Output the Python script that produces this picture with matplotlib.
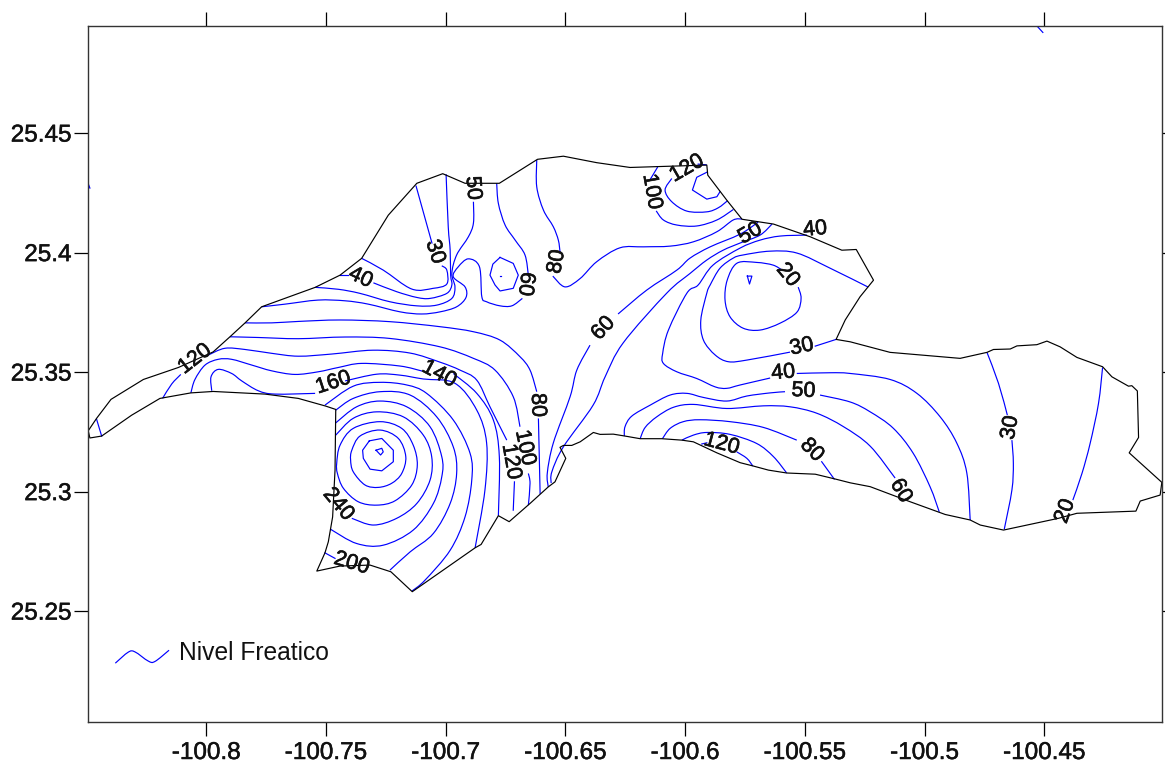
import matplotlib
matplotlib.use("Agg")
import matplotlib.pyplot as plt
import matplotlib.patheffects as pe
from matplotlib.path import Path
from matplotlib.patches import PathPatch

plt.rcParams['font.family'] = ['Liberation Sans', 'DejaVu Sans']

lon_ticks = [-100.8, -100.75, -100.7, -100.65, -100.6, -100.55, -100.5, -100.45]
lon_tick_labels = ['-100.8', '-100.75', '-100.7', '-100.65', '-100.6', '-100.55', '-100.5', '-100.45']
lat_ticks = [25.25, 25.3, 25.35, 25.4, 25.45]
lat_tick_labels = ['25.25', '25.3', '25.35', '25.4', '25.45']

boundary = [(-100.8493,25.3252),(-100.8458,25.3304),(-100.8398,25.3383),(-100.8263,25.3466),(-100.8117,25.3516),
 (-100.7972,25.3581),(-100.7902,25.3644),(-100.7839,25.3702),(-100.7770,25.3769),(-100.7547,25.3850),(-100.7443,25.3901),
 (-100.7353,25.3971),(-100.7242,25.4151),(-100.7123,25.4284),(-100.7015,25.4324),(-100.6922,25.4284),(-100.6779,25.4284),
 (-100.6620,25.4384),(-100.6512,25.4397),(-100.6373,25.4370),(-100.6234,25.4350),(-100.5914,25.4360),(-100.5910,25.4318),
 (-100.5831,25.4214),(-100.5767,25.4134),(-100.5636,25.4114),(-100.5483,25.4061),(-100.5351,25.4005),(-100.5291,25.4008),
 (-100.5219,25.3880),(-100.5275,25.3811),(-100.5337,25.3714),(-100.5375,25.3633),(-100.5316,25.3623),(-100.5150,25.3579),
 (-100.4858,25.3554),(-100.4746,25.3579),(-100.4719,25.3591),(-100.4649,25.3593),(-100.4621,25.3606),(-100.4538,25.3611),
 (-100.4496,25.3626),(-100.4441,25.3602),(-100.4371,25.3558),(-100.4264,25.3519),(-100.4225,25.3477),(-100.4156,25.3438),
 (-100.4142,25.3440),(-100.4119,25.3418),(-100.4114,25.3224),(-100.4153,25.3160),(-100.4017,25.3037),(-100.4024,25.2984),
 (-100.4107,25.2959),(-100.4125,25.2917),(-100.4371,25.2908),(-100.4448,25.2887),(-100.4677,25.2838),(-100.4774,25.2859),
 (-100.4816,25.2880),(-100.4920,25.2903),(-100.5066,25.2956),(-100.5233,25.3019),(-100.5316,25.3035),(-100.5379,25.3051),
 (-100.5462,25.3071),(-100.5581,25.3076),(-100.5657,25.3088),(-100.5720,25.3105),(-100.5775,25.3119),(-100.5872,25.3160),
 (-100.5970,25.3206),(-100.6018,25.3213),(-100.6102,25.3219),(-100.6192,25.3219),(-100.6255,25.3230),(-100.6304,25.3238),
 (-100.6359,25.3237),(-100.6387,25.3245),(-100.6442,25.3206),(-100.6477,25.3191),(-100.6512,25.3191),(-100.6526,25.3183),
 (-100.6502,25.3137),(-100.6547,25.3039),(-100.6575,25.3018),(-100.6651,25.2949),(-100.6738,25.2873),(-100.6783,25.2898),
 (-100.6855,25.2778),(-100.6880,25.2764),(-100.7142,25.2581),(-100.7231,25.2664),(-100.7318,25.2692),(-100.7443,25.2688),
 (-100.7540,25.2667),(-100.7506,25.2743),(-100.7492,25.2789),(-100.7474,25.2893),(-100.7464,25.3088),(-100.7461,25.3341),
 (-100.7503,25.3355),(-100.7617,25.3387),(-100.7756,25.3405),(-100.7972,25.3416),(-100.8065,25.3410),(-100.8194,25.3387),
 (-100.8312,25.3317),(-100.8437,25.3230),(-100.8486,25.3222),(-100.8493,25.3252)]

# Water-table contours, grouped by level
c20_north = [(-100.5600,25.3922),(-100.5638,25.3943),(-100.5706,25.3954),(-100.5788,25.3951),(-100.5829,25.3880),(-100.5838,25.3797),
 (-100.5817,25.3727),(-100.5763,25.3680),(-100.5692,25.3672),(-100.5608,25.3701),(-100.5538,25.3747),(-100.5521,25.3805),(-100.5533,25.3851)]
c20_core = [(-100.5745,25.3897),(-100.5726,25.3897),(-100.5736,25.3864),(-100.5745,25.3897)]
c20_east = [(-100.4264,25.3516),(-100.4281,25.3366),(-100.4316,25.3199),(-100.4350,25.3074),(-100.4388,25.2963)]

c30_nw_a = [(-100.7126,25.4272),(-100.7060,25.4035)]
c30_nw_b = [(-100.7019,25.3940),(-100.6998,25.3922),(-100.6998,25.3864),(-100.7055,25.3846),(-100.7144,25.3843),(-100.7263,25.3922),(-100.7353,25.3971)]
c30_mid_a = [(-100.5241,25.3851),(-100.5400,25.3930),(-100.5538,25.3993),(-100.5650,25.4001),(-100.5763,25.3985),(-100.5804,25.3972),
 (-100.5859,25.3930),(-100.5900,25.3860),(-100.5914,25.3826),(-100.5939,25.3714),(-100.5928,25.3630),(-100.5879,25.3568),
 (-100.5824,25.3540),(-100.5746,25.3547),(-100.5567,25.3580)]
c30_mid_b = [(-100.5462,25.3605),(-100.5375,25.3633)]
c30_east_a = [(-100.4746,25.3579),(-100.4698,25.3450),(-100.4661,25.3317)]
c30_east_b = [(-100.4642,25.3213),(-100.4636,25.3116),(-100.4642,25.3005),(-100.4674,25.2841)]

c40_nw_stub = [(-100.7443,25.3901),(-100.7410,25.3901)]
c40_nw = [(-100.7001,25.4322),(-100.6992,25.4103),(-100.6984,25.4005),(-100.6982,25.3901),(-100.6977,25.3860),(-100.6998,25.3825),
 (-100.7068,25.3804),(-100.7123,25.3808),(-100.7207,25.3832),(-100.7304,25.3869)]
c40_mid_a = [(-100.5496,25.4068),(-100.5608,25.4064),(-100.5692,25.4047),(-100.5775,25.4014),(-100.5888,25.3943),(-100.5950,25.3860),
 (-100.5997,25.3826),(-100.6074,25.3672),(-100.6098,25.3575),(-100.6095,25.3533),(-100.6039,25.3498),(-100.5956,25.3470),
 (-100.5879,25.3435),(-100.5831,25.3429),(-100.5775,25.3443),(-100.5650,25.3472)]
c40_mid_b = [(-100.5539,25.3491),(-100.5400,25.3494),(-100.5316,25.3491),(-100.5150,25.3466),(-100.5038,25.3408),(-100.4941,25.3310),
 (-100.4872,25.3201),(-100.4830,25.3076),(-100.4816,25.2880)]

c50_nw = [(-100.6887,25.4207),(-100.6887,25.4118),(-100.6908,25.4061),(-100.6957,25.3985),(-100.6977,25.3908),(-100.6964,25.3852),
 (-100.6977,25.3804),(-100.7040,25.3776),(-100.7123,25.3773),(-100.7235,25.3790),(-100.7360,25.3825),(-100.7450,25.3842),(-100.7547,25.3850)]
c50_mid = [(-100.5642,25.4114),(-100.5692,25.4068),(-100.5775,25.4035),(-100.5846,25.4005),(-100.5914,25.3964),(-100.5984,25.3908),
 (-100.6081,25.3826),(-100.6263,25.3618),(-100.6338,25.3477),(-100.6388,25.3359),(-100.6512,25.3185),(-100.6560,25.3081),(-100.6563,25.3034)]
c50_south_a = [(-100.6258,25.3230),(-100.6255,25.3269),(-100.6227,25.3313),(-100.6150,25.3359),(-100.6067,25.3401),(-100.5997,25.3408),
 (-100.5928,25.3391),(-100.5831,25.3376),(-100.5747,25.3397),(-100.5650,25.3410),(-100.5588,25.3415)]
c50_south_b = [(-100.5442,25.3401),(-100.5316,25.3372),(-100.5233,25.3331),(-100.5137,25.3263),(-100.5054,25.3159),(-100.4983,25.3018),(-100.4945,25.2914)]

c60_north_a = [(-100.6790,25.4284),(-100.6783,25.4200),(-100.6755,25.4110),(-100.6713,25.4047),(-100.6672,25.3985),(-100.6658,25.3901)]
c60_north_b = [(-100.6683,25.3804),(-100.6727,25.3773),(-100.6776,25.3773),(-100.6832,25.3790),(-100.6852,25.3811),(-100.6862,25.3936),
 (-100.6908,25.3969),(-100.6950,25.3936),(-100.6971,25.3894),(-100.6922,25.3852),(-100.6918,25.3808),(-100.6957,25.3769),
 (-100.7026,25.3748),(-100.7103,25.3739),(-100.7193,25.3748),(-100.7325,25.3780),(-100.7422,25.3794),(-100.7535,25.3797),
 (-100.7673,25.3780),(-100.7770,25.3769)]
c60_mid_a = [(-100.5700,25.4122),(-100.5775,25.4072),(-100.5900,25.4019),(-100.5984,25.3972),(-100.6039,25.3922),(-100.6164,25.3839),(-100.6284,25.3739)]
c60_mid_b = [(-100.6401,25.3609),(-100.6456,25.3505),(-100.6484,25.3394),(-100.6554,25.3201),(-100.6579,25.3076),(-100.6575,25.3018)]
c60_south = [(-100.6192,25.3219),(-100.6171,25.3266),(-100.6123,25.3310),(-100.6053,25.3350),(-100.5970,25.3362),(-100.5831,25.3345),
 (-100.5678,25.3356),(-100.5567,25.3352),(-100.5455,25.3325),(-100.5344,25.3269),(-100.5233,25.3188),(-100.5129,25.3055)]

c70_loop = [(-100.6776,25.3975),(-100.6721,25.3950),(-100.6700,25.3901),(-100.6721,25.3846),(-100.6776,25.3835),(-100.6797,25.3860),
 (-100.6818,25.3901),(-100.6806,25.3947),(-100.6776,25.3975)]
c70_dot = [(-100.6775,25.3897),(-100.6773,25.3897)]

c80_north_a = [(-100.6623,25.4381),(-100.6623,25.4269),(-100.6595,25.4172),(-100.6554,25.4103),(-100.6533,25.4047),(-100.6526,25.3998)]
c80_north_b = [(-100.6556,25.3897),(-100.6505,25.3852),(-100.6442,25.3887),(-100.6373,25.3957),(-100.6276,25.4015),(-100.6178,25.4019),
 (-100.6067,25.4022),(-100.5970,25.4040),(-100.5872,25.4082),(-100.5804,25.4131),(-100.5767,25.4135)]
c80_west_a = [(-100.7839,25.3702),(-100.7728,25.3702),(-100.7617,25.3708),(-100.7443,25.3714),(-100.7235,25.3707),(-100.7026,25.3686),
 (-100.6887,25.3665),(-100.6776,25.3630),(-100.6693,25.3561),(-100.6651,25.3505),(-100.6623,25.3415)]
c80_west_b = [(-100.6616,25.3301),(-100.6609,25.2991)]
c80_south_a = [(-100.6099,25.3219),(-100.6067,25.3262),(-100.6012,25.3290),(-100.5942,25.3298),(-100.5817,25.3290),(-100.5678,25.3266),(-100.5539,25.3213)]
c80_south_b = [(-100.5435,25.3123),(-100.5383,25.3051)]

c100_north_a = [(-100.6120,25.4350),(-100.6150,25.4300)]
c100_north_b = [(-100.6125,25.4169),(-100.6095,25.4131),(-100.6039,25.4110),(-100.5956,25.4106),(-100.5872,25.4131),(-100.5803,25.4175)]
c100_west_a = [(-100.7902,25.3644),(-100.7784,25.3641),(-100.7617,25.3636),(-100.7422,25.3643),(-100.7235,25.3637),(-100.7026,25.3602),
 (-100.6887,25.3554),(-100.6797,25.3505),(-100.6721,25.3394),(-100.6693,25.3269)]
c100_west_b = [(-100.6658,25.3074),(-100.6651,25.3033),(-100.6658,25.2942)]
c100_south = [(-100.6018,25.3213),(-100.5970,25.3234),(-100.5914,25.3245),(-100.5817,25.3237),(-100.5706,25.3199),(-100.5636,25.3144),(-100.5581,25.3076)]

c120_north_a = [(-100.6060,25.4304),(-100.6088,25.4256),(-100.6060,25.4207),(-100.5997,25.4168),(-100.5914,25.4165),(-100.5866,25.4182),(-100.5828,25.4211)]
c120_north_b = [(-100.5950,25.4364),(-100.5917,25.4361)]
c120_west_a = [(-100.7992,25.3568),(-100.7923,25.3596),(-100.7839,25.3591),(-100.7728,25.3575),(-100.7617,25.3563),(-100.7478,25.3572),
 (-100.7306,25.3588),(-100.7151,25.3576),(-100.7026,25.3538),(-100.6943,25.3505),(-100.6873,25.3463),(-100.6818,25.3352),(-100.6748,25.3213)]
c120_west_b = [(-100.6716,25.3039),(-100.6721,25.2921)]
c120_south_a = [(-100.5935,25.3197),(-100.5914,25.3202)]
c120_south_b = [(-100.5789,25.3164),(-100.5747,25.3137),(-100.5722,25.3105)]
c120_far_west = [(-100.8107,25.3487),(-100.8145,25.3447),(-100.8183,25.3387)]
c120_tip = [(-100.8458,25.3300),(-100.8437,25.3230)]

c140_north = [(-100.5914,25.4330),(-100.5956,25.4309),(-100.5974,25.4256),(-100.5914,25.4218),(-100.5872,25.4228),(-100.5859,25.4249)]
c140_west_a = [(-100.8065,25.3410),(-100.8048,25.3466),(-100.8006,25.3526),(-100.7951,25.3550),(-100.7895,25.3550),(-100.7811,25.3526),
 (-100.7728,25.3502),(-100.7631,25.3487),(-100.7534,25.3498),(-100.7450,25.3516),(-100.7353,25.3533),(-100.7193,25.3522),(-100.7101,25.3501)]
c140_west_b = [(-100.6971,25.3491),(-100.6873,25.3408),(-100.6804,25.3297),(-100.6779,25.3144),(-100.6783,25.2898)]

c160_a = [(-100.7978,25.3419),(-100.7981,25.3477),(-100.7951,25.3508),(-100.7895,25.3491),(-100.7853,25.3460),(-100.7784,25.3419),(-100.7714,25.3405),(-100.7547,25.3408)]
c160_b = [(-100.7422,25.3460),(-100.7290,25.3488),(-100.7193,25.3484),(-100.7096,25.3468),(-100.6964,25.3450),(-100.6873,25.3338),
 (-100.6832,25.3201),(-100.6839,25.3005),(-100.6880,25.2764)]

c180 = [(-100.7506,25.3359),(-100.7388,25.3438),(-100.7276,25.3454),(-100.7165,25.3443),(-100.7082,25.3408),(-100.6971,25.3297),
 (-100.6901,25.3158),(-100.6894,25.3046),(-100.6922,25.2893),(-100.6984,25.2754),(-100.7089,25.2629),(-100.7143,25.2584)]
c200_a = [(-100.7461,25.3338),(-100.7388,25.3387),(-100.7276,25.3415),(-100.7151,25.3401),(-100.7040,25.3310),(-100.6971,25.3185),
 (-100.6957,25.3074),(-100.6984,25.2949),(-100.7054,25.2824),(-100.7151,25.2747),(-100.7235,25.2671)]
c200_b = [(-100.7506,25.2743),(-100.7464,25.2720)]
c220 = [(-100.7461,25.3285),(-100.7374,25.3352),(-100.7276,25.3376),(-100.7165,25.3352),(-100.7068,25.3269),(-100.7019,25.3144),
 (-100.7019,25.3060),(-100.7054,25.2949),(-100.7138,25.2838),(-100.7263,25.2775),(-100.7374,25.2782),(-100.7482,25.2841)]
c240 = [(-100.7461,25.3234),(-100.7388,25.3304),(-100.7290,25.3331),(-100.7179,25.3310),(-100.7096,25.3234),(-100.7061,25.3144),
 (-100.7068,25.3046),(-100.7123,25.2949),(-100.7207,25.2887),(-100.7304,25.2859),(-100.7394,25.2887)]
c260 = [(-100.7457,25.3116),(-100.7443,25.3192),(-100.7388,25.3262),(-100.7276,25.3290),(-100.7186,25.3262),(-100.7138,25.3192),
 (-100.7121,25.3109),(-100.7144,25.3026),(-100.7214,25.2960),(-100.7290,25.2942),(-100.7367,25.2956),(-100.7429,25.3012),(-100.7454,25.3074),(-100.7457,25.3116)]
c280 = [(-100.7394,25.3171),(-100.7360,25.3230),(-100.7276,25.3255),(-100.7200,25.3220),(-100.7169,25.3144),(-100.7186,25.3074),
 (-100.7228,25.3033),(-100.7283,25.3016),(-100.7339,25.3026),(-100.7388,25.3081),(-100.7399,25.3130),(-100.7394,25.3171)]
c300 = [(-100.7321,25.3210),(-100.7269,25.3220),(-100.7221,25.3171),(-100.7221,25.3123),(-100.7269,25.3085),(-100.7318,25.3092),
 (-100.7346,25.3137),(-100.7349,25.3171),(-100.7321,25.3210)]
c320 = [(-100.7293,25.3171),(-100.7269,25.3179),(-100.7263,25.3164),(-100.7274,25.3151),(-100.7293,25.3171)]

stray_ne = [(-100.4535,25.4937),(-100.4513,25.4913)]
stray_w = [(-100.8494,25.4285),(-100.8486,25.4264)]

smooth_contours = [c20_north, c20_east, c30_nw_b, c30_mid_a, c30_east_a, c30_east_b,
                   c40_nw, c40_mid_a, c40_mid_b, c50_nw, c50_mid, c50_south_a, c50_south_b,
                   c60_north_a, c60_north_b, c60_mid_a, c60_mid_b, c60_south,
                   c80_north_a, c80_north_b, c80_west_a, c80_south_a,
                   c100_north_b, c100_west_a, c100_west_b, c100_south,
                   c120_north_a, c120_west_a, c120_south_b, c120_far_west,
                   c140_west_a, c140_west_b, c160_a, c160_b, c180, c200_a, c220, c240, c260, c280]
straight_contours = [c20_core, c30_nw_a, c30_mid_b, c40_nw_stub, c70_loop, c70_dot, c80_west_b, c80_south_b,
                     c100_north_a, c120_north_b, c120_west_b, c120_south_a, c120_tip, c140_north, c200_b, c300, c320,
                     stray_ne, stray_w]

label_text = ['120','160','40','30','50','60','80','140','80','100','120','240','200','60','100','120','50','40','20','30','40','50','120','80','60','30','20']
label_lon = [-100.8048,-100.7471,-100.7357,-100.7047,-100.6889,-100.6669,-100.6540,-100.7030,-100.6619,-100.6672,-100.6730,-100.7450,-100.7394,
             -100.6345,-100.6143,-100.5997,-100.5733,-100.5462,-100.5576,-100.5518,-100.5595,-100.5511,-100.5852,-100.5476,-100.5105,-100.4649,-100.4420]
label_lat = [25.3551,25.3452,25.3890,25.3998,25.4264,25.3864,25.3957,25.3488,25.3359,25.3181,25.3123,25.2945,25.2699,
             25.3679,25.4249,25.4346,25.4075,25.4092,25.3901,25.3602,25.3494,25.3418,25.3197,25.3171,25.3001,25.3265,25.2917]
label_angle = [38,18,-25,-72,-85,-97,80,-28,-88,-78,-80,-50,-17,47,-80,30,30,5,-50,12,5,-3,-15,-45,-60,80,70]

legend_line = [(-100.8380,25.2283),(-100.8326,25.2329),(-100.8298,25.2330),(-100.8243,25.2292),(-100.8215,25.2290),(-100.8156,25.2337)]
legend_label = 'Nivel Freatico'
legend_text_pos = (-100.8115, 25.2325)


def recal(pts):
    """Refine the values to the tick spacing measured on the reference axes."""
    out = []
    for lon, lat in pts:
        px = (lon + 100.8861) / 0.000417
        py = (25.5048 - lat) / 0.000417
        out.append((-100.8 + (px - 206.3) / 2394.0, 25.25 + (611.0 - py) / 2390.0))
    return out


def smooth_path(pts):
    """Curve through the read points (Catmull-Rom handles as cubic Bezier segments)."""
    n = len(pts)
    closed = n > 3 and pts[0] == pts[-1]
    verts = [pts[0]]
    codes = [Path.MOVETO]
    for i in range(n - 1):
        if closed:
            p0 = pts[i - 1] if i > 0 else pts[n - 2]
            p3 = pts[i + 2] if i + 2 < n else pts[1]
        else:
            p0 = pts[max(i - 1, 0)]
            p3 = pts[min(i + 2, n - 1)]
        p1, p2 = pts[i], pts[i + 1]
        verts += [(p1[0] + (p2[0] - p0[0]) / 6, p1[1] + (p2[1] - p0[1]) / 6),
                  (p2[0] - (p3[0] - p1[0]) / 6, p2[1] - (p3[1] - p1[1]) / 6),
                  p2]
        codes += [Path.CURVE4] * 3
    return Path(verts, codes)


W, H = 1165, 764
fig = plt.figure(figsize=(W / 100, H / 100), dpi=100)
ax = fig.add_axes([88 / W, (H - 722) / H, (1161.7 - 88) / W, (722 - 26) / H])
ax.set_xlim(-100.8494, -100.4010)
ax.set_ylim(25.2036, 25.4948)

BLUE = '#0000ff'
LW = 0.85
INK = '#111111'
heavy = [pe.withStroke(linewidth=0.45, foreground=INK)]

ax.plot(*zip(*recal(boundary)), color='black', lw=LW, solid_joinstyle='round', zorder=2)
for seg in smooth_contours:
    ax.add_patch(PathPatch(smooth_path(recal(seg)), fill=False, edgecolor=BLUE, lw=LW, zorder=1))
for seg in straight_contours:
    ax.plot(*zip(*recal(seg)), color=BLUE, lw=LW, solid_joinstyle='round', zorder=1)

for t, x, y, a in zip(label_text, label_lon, label_lat, label_angle):
    (x2, y2), = recal([(x, y)])
    ax.text(x2, y2, t, rotation=a, rotation_mode='anchor', ha='center', va='center',
            fontsize=15.5, color=INK, zorder=3, path_effects=heavy)

ax.add_patch(PathPatch(smooth_path(recal(legend_line)), fill=False, edgecolor=BLUE, lw=LW))
(lx, ly), = recal([legend_text_pos])
ax.text(lx, ly, legend_label, fontsize=17.7, ha='left', va='center', color=INK)

ax.set_xticks(lon_ticks)
ax.set_xticklabels(lon_tick_labels)
ax.set_yticks(lat_ticks)
ax.set_yticklabels(lat_tick_labels)
ax.tick_params(axis='both', which='major', direction='out', length=9.9, width=0.9, labelsize=17.5,
               top=True, right=True, labelcolor=INK)
ax.tick_params(axis='x', pad=4.5)
ax.tick_params(axis='y', pad=2)
for lab in ax.get_xticklabels() + ax.get_yticklabels():
    lab.set_path_effects([pe.withStroke(linewidth=0.35, foreground=INK)])
for s in ax.spines.values():
    s.set_linewidth(1.0)
    s.set_color('#333333')

fig.savefig('out.png', dpi=100, facecolor='white')
